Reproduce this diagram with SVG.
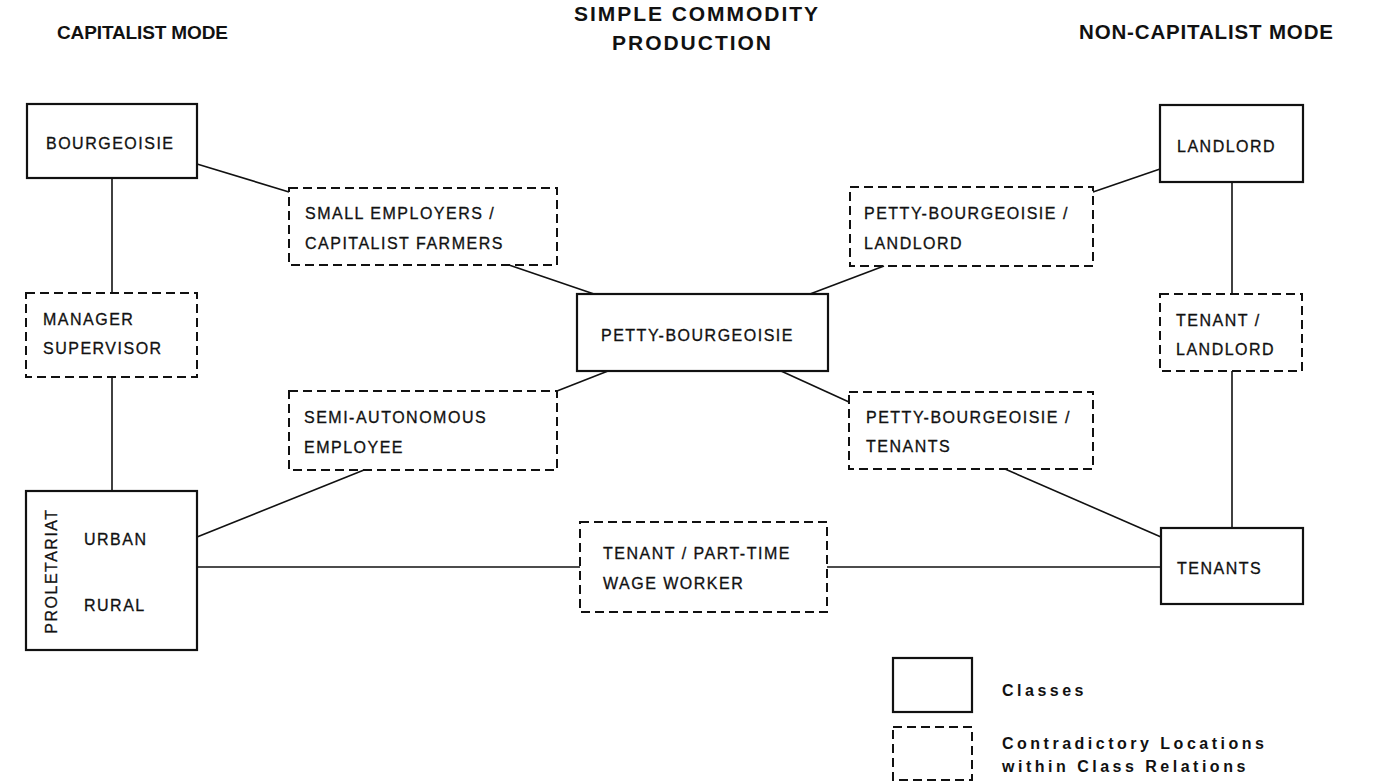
<svg xmlns="http://www.w3.org/2000/svg" width="1394" height="783" viewBox="0 0 1394 783">
<defs>
<style>
.bg{fill:#ffffff}
.box{fill:none;stroke:#111;stroke-width:2.2}
.dbox{fill:none;stroke:#111;stroke-width:2;stroke-dasharray:9 5}
#connectors line{stroke:#111;stroke-width:1.6}
text{font-family:"Liberation Sans",Arial,Helvetica,sans-serif;fill:#111}
.t{font-size:16px;letter-spacing:1.5px;stroke:#111;stroke-width:0.3}
.h{font-weight:bold}
.lg{font-size:16px;font-weight:bold;letter-spacing:3.5px}
</style>
</defs>
<rect class="bg" x="0" y="0" width="1394" height="783"/>

<g id="headers">
<text class="h" x="57" y="39" font-size="19" textLength="171" lengthAdjust="spacing">CAPITALIST MODE</text>
<text class="h" x="574" y="21" font-size="21" textLength="244" lengthAdjust="spacing">SIMPLE COMMODITY</text>
<text class="h" x="612" y="50" font-size="21" textLength="159" lengthAdjust="spacing">PRODUCTION</text>
<text class="h" x="1079" y="39" font-size="20.5" textLength="254" lengthAdjust="spacing">NON-CAPITALIST MODE</text>
</g>

<g id="connectors">
<line x1="197" y1="164" x2="289" y2="192"/>
<line x1="112" y1="178" x2="112" y2="293"/>
<line x1="112" y1="377" x2="112" y2="491"/>
<line x1="509" y1="265" x2="594" y2="294"/>
<line x1="884" y1="266" x2="810" y2="294"/>
<line x1="1160" y1="169" x2="1093" y2="192"/>
<line x1="608" y1="371" x2="557" y2="391"/>
<line x1="781" y1="371" x2="849" y2="402"/>
<line x1="364" y1="470" x2="197" y2="537"/>
<line x1="197" y1="567" x2="580" y2="567"/>
<line x1="827" y1="567" x2="1161" y2="567"/>
<line x1="1005" y1="469" x2="1161" y2="537"/>
<line x1="1232" y1="182" x2="1232" y2="294"/>
<line x1="1232" y1="371" x2="1232" y2="528"/>
</g>

<g id="bourgeoisie">
<rect class="box" x="27" y="104" width="170" height="74"/>
<text class="t" x="46" y="148.5">BOURGEOISIE</text>
</g>

<g id="small-employers">
<rect class="dbox" x="289" y="188" width="268" height="77"/>
<text class="t" x="305" y="218.5">SMALL EMPLOYERS /</text>
<text class="t" x="305" y="248.5">CAPITALIST FARMERS</text>
</g>

<g id="manager-supervisor">
<rect class="dbox" x="26" y="293" width="171" height="84"/>
<text class="t" x="43" y="324.5">MANAGER</text>
<text class="t" x="43" y="353.5">SUPERVISOR</text>
</g>

<g id="proletariat">
<rect class="box" x="26" y="491" width="171" height="159"/>
<text class="t" transform="translate(57,571) rotate(-90)" text-anchor="middle">PROLETARIAT</text>
<text class="t" x="84" y="544.5">URBAN</text>
<text class="t" x="84" y="610.5">RURAL</text>
</g>

<g id="semi-autonomous">
<rect class="dbox" x="289" y="391" width="268" height="79"/>
<text class="t" x="304" y="422.5">SEMI-AUTONOMOUS</text>
<text class="t" x="304" y="452.5">EMPLOYEE</text>
</g>

<g id="petty-bourgeoisie">
<rect class="box" x="577" y="294" width="251" height="77"/>
<text class="t" x="601" y="340.5">PETTY-BOURGEOISIE</text>
</g>

<g id="pb-landlord">
<rect class="dbox" x="850" y="187" width="243" height="79"/>
<text class="t" x="864" y="218.5">PETTY-BOURGEOISIE /</text>
<text class="t" x="864" y="248.5">LANDLORD</text>
</g>

<g id="pb-tenants">
<rect class="dbox" x="849" y="392" width="244" height="77"/>
<text class="t" x="866" y="422.5">PETTY-BOURGEOISIE /</text>
<text class="t" x="866" y="451.5">TENANTS</text>
</g>

<g id="tenant-part-time">
<rect class="dbox" x="580" y="522" width="247" height="90"/>
<text class="t" x="603" y="558.5">TENANT / PART-TIME</text>
<text class="t" x="603" y="588.5">WAGE WORKER</text>
</g>

<g id="landlord">
<rect class="box" x="1160" y="105" width="143" height="77"/>
<text class="t" x="1177" y="151.5">LANDLORD</text>
</g>

<g id="tenant-landlord">
<rect class="dbox" x="1160" y="294" width="142" height="77"/>
<text class="t" x="1176" y="325.5">TENANT /</text>
<text class="t" x="1176" y="354.5">LANDLORD</text>
</g>

<g id="tenants">
<rect class="box" x="1161" y="528" width="142" height="76"/>
<text class="t" x="1177" y="573.5">TENANTS</text>
</g>

<g id="legend">
<rect class="box" x="893" y="658" width="79" height="54"/>
<text class="lg" x="1002" y="696">Classes</text>
<rect class="dbox" x="893" y="727" width="79" height="53"/>
<text class="lg" x="1002" y="749">Contradictory Locations</text>
<text class="lg" x="1002" y="772">within Class Relations</text>
</g>
</svg>
